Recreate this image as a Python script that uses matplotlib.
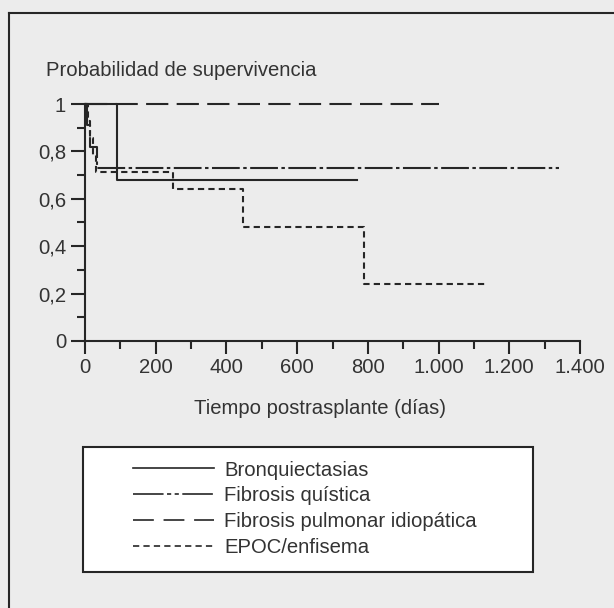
import numpy as np
import matplotlib
matplotlib.use("Agg")
import matplotlib.pyplot as plt
from matplotlib.patches import Rectangle
from matplotlib.lines import Line2D
from matplotlib.ticker import MultipleLocator

# Kaplan-Meier curves (days, survival probability)
bronq_t = [0, 90, 770]
bronq_s = [1.0, 0.68, 0.68]
fq_t = [0, 5, 15, 35, 1340]
fq_s = [1.0, 0.91, 0.82, 0.73, 0.73]
fpi_t = [0, 1000]
fpi_s = [1.0, 1.0]
epoc_t = [0, 8, 14, 22, 30, 248, 447, 788, 1140]
epoc_s = [1.0, 0.929, 0.857, 0.786, 0.714, 0.643, 0.482, 0.241, 0.241]

labels = ["Bronquiectasias", "Fibrosis quística",
          "Fibrosis pulmonar idiopática", "EPOC/enfisema"]
y_ticks = [0, 0.2, 0.4, 0.6, 0.8, 1]
y_ticklabels = ["0", "0,2", "0,4", "0,6", "0,8", "1"]
x_ticks = [0, 200, 400, 600, 800, 1000, 1200, 1400]
x_ticklabels = ["0", "200", "400", "600", "800", "1.000", "1.200", "1.400"]

plt.rcParams["font.family"] = ["Liberation Sans", "DejaVu Sans"]
plt.rcParams["lines.scale_dashes"] = False
txt = "#333333"
ink = "#262626"
bg = "#ececec"
fs = 14.6

fig = plt.figure(figsize=(6.14, 6.08), dpi=100, facecolor=bg)
ax = fig.add_axes([85 / 614, 1 - 341 / 608, 495 / 614, 237 / 608])
ax.set_facecolor("none")

lw = 1.5
ax.plot(bronq_t, bronq_s, drawstyle="steps-post", color=ink, lw=lw,
        label=labels[0], clip_on=False)
ax.plot(fq_t, fq_s, drawstyle="steps-post", color=ink, lw=lw,
        dashes=(20, 2.5, 2.5, 2.5), label=labels[1], clip_on=False)
ax.plot(fpi_t, fpi_s, drawstyle="steps-post", color=ink, lw=lw,
        dashes=(16, 6), label=labels[2], clip_on=False)
ax.plot(epoc_t, epoc_s, drawstyle="steps-post", color=ink, lw=lw,
        dashes=(4.5, 3), label=labels[3], clip_on=False)

ax.set_xlim(0, 1400)
ax.set_ylim(0, 1)
for s in ["top", "right"]:
    ax.spines[s].set_visible(False)
for s in ["left", "bottom"]:
    ax.spines[s].set_linewidth(1.5)
    ax.spines[s].set_color(ink)
ax.spines["left"].set_bounds(0, 1)
ax.spines["bottom"].set_bounds(0, 1400)

ax.set_xticks(x_ticks)
ax.set_xticklabels(x_ticklabels)
ax.set_yticks(y_ticks)
ax.set_yticklabels(y_ticklabels)
ax.xaxis.set_minor_locator(MultipleLocator(100))
ax.yaxis.set_minor_locator(MultipleLocator(0.1))
ax.tick_params(axis="both", which="major", labelsize=fs, labelcolor=txt,
               color=ink, width=1.5)
ax.tick_params(axis="y", which="major", length=10, pad=3.5)
ax.tick_params(axis="y", which="minor", length=6, width=1.5, color=ink)
ax.tick_params(axis="x", which="major", length=9, pad=3)
ax.tick_params(axis="x", which="minor", length=6, width=1.5, color=ink)

fig.text(46 / 614, 1 - 71 / 608, "Probabilidad de supervivencia",
         fontsize=fs, color=txt, ha="left", va="center")
fig.text(320 / 614, 1 - 408 / 608, "Tiempo postrasplante (días)",
         fontsize=fs, color=txt, ha="center", va="center")

# legend box
fig.patches.append(Rectangle((83 / 614, 1 - 572 / 608), 450 / 614, 125 / 608,
                             transform=fig.transFigure, facecolor="white",
                             edgecolor=ink, lw=1.5, zorder=1))
handles, lbls = ax.get_legend_handles_labels()
leg = fig.legend(handles, lbls, loc="upper left",
                 bbox_to_anchor=(133 / 614, 1 - 460.5 / 608),
                 frameon=False, fontsize=fs, handlelength=4.0,
                 handletextpad=0.5, labelspacing=0.345, borderpad=0,
                 borderaxespad=0)
for t in leg.get_texts():
    t.set_color(txt)
leg_lines = leg.get_lines()
for h in leg_lines:
    h.set_linewidth(1.2)
leg_lines[1].set_dashes((22, 2.5, 3, 2.5, 3, 2.5))
leg_lines[2].set_dashes((15, 7))

# outer frame of the scanned figure
fig.add_artist(Line2D([9 / 614, 1], [1 - 13 / 608, 1 - 13 / 608],
                      transform=fig.transFigure, color=ink, lw=1.5))
fig.add_artist(Line2D([9 / 614, 9 / 614], [0, 1 - 13 / 608],
                      transform=fig.transFigure, color=ink, lw=1.5))

fig.savefig("out.png", dpi=100, facecolor=bg)
